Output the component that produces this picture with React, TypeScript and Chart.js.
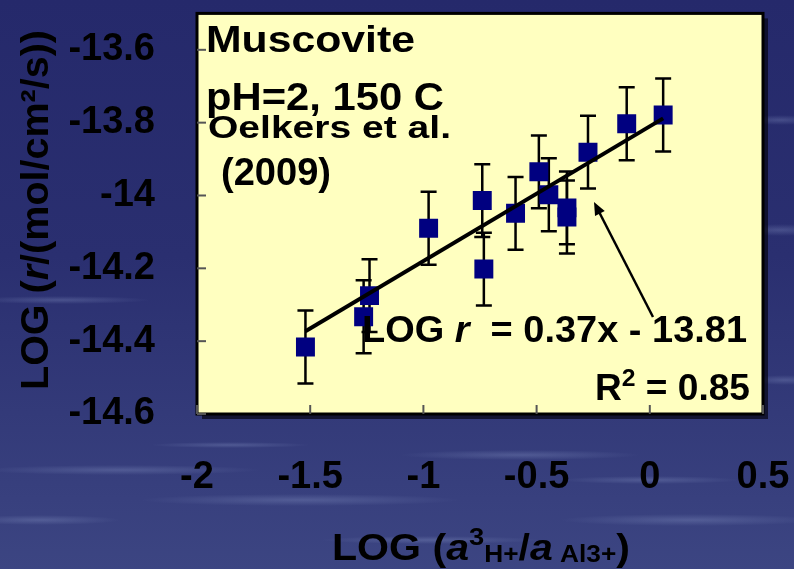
import React, { useEffect, useRef } from "react";
import { Chart, registerables } from "chart.js";

Chart.register(...registerables);

// ---- data ----
const logActivity = [-1.521, -1.264, -1.238, -0.977, -0.74, -0.733, -0.593, -0.49, -0.446, -0.366, -0.366, -0.273, -0.102, 0.059];
const logRate = [-14.416, -14.333, -14.275, -14.09, -14.014, -14.202, -14.049, -13.935, -13.998, -14.034, -14.059, -13.881, -13.803, -13.779];
const rateError = [0.1, 0.1, 0.1, 0.1, 0.1, 0.1, 0.1, 0.1, 0.1, 0.1, 0.1, 0.1, 0.1, 0.1];
const fitSlope = 0.37;
const fitIntercept = -13.81;
const xTicks = [-2, -1.5, -1, -0.5, 0, 0.5];
const yTicks = [-14.6, -14.4, -14.2, -14, -13.8, -13.6];

const FAMILY = '"Liberation Sans", Arial, Helvetica, sans-serif';

type Part = { t: string; size: number; italic?: boolean; dy?: number };

function drawParts(
  ctx: CanvasRenderingContext2D,
  parts: Part[],
  x: number,
  y: number,
  align: "left" | "right" | "center",
  targetW?: number
) {
  const fonts = parts.map((p) => `${p.italic ? "italic " : ""}bold ${p.size}px ${FAMILY}`);
  let w = 0;
  const ws = parts.map((p, i) => {
    ctx.font = fonts[i];
    const m = ctx.measureText(p.t).width;
    w += m;
    return m;
  });
  const sx = targetW ? targetW / w : 1;
  const total = w * sx;
  const start = align === "left" ? x : align === "right" ? x - total : x - total / 2;
  ctx.save();
  ctx.translate(start, y);
  ctx.scale(sx, 1);
  ctx.fillStyle = "#000";
  ctx.textAlign = "left";
  ctx.textBaseline = "alphabetic";
  let cx = 0;
  parts.forEach((p, i) => {
    ctx.font = fonts[i];
    ctx.fillText(p.t, cx, p.dy || 0);
    cx += ws[i];
  });
  ctx.restore();
}

const decorPlugin = {
  id: "decor",
  beforeDraw(chart: any) {
    const { ctx, width, height, chartArea: a } = chart;
    ctx.save();
    const g = ctx.createLinearGradient(0, 0, 0, height);
    g.addColorStop(0, "#25296b");
    g.addColorStop(0.45, "#2a2f70");
    g.addColorStop(1, "#3c4582");
    ctx.fillStyle = g;
    ctx.fillRect(0, 0, width, height);
    // soft water streaks
    const streaks = [
      [60, 300, 90, 4], [120, 470, 140, 5], [300, 500, 160, 6], [520, 455, 120, 5],
      [690, 520, 130, 6], [780, 120, 40, 5], [780, 230, 50, 6], [785, 380, 40, 5],
      [430, 540, 110, 4], [40, 520, 80, 5], [650, 480, 90, 4], [230, 445, 80, 3],
    ];
    streaks.forEach(([sx, sy, rx, ry]) => {
      const rg = ctx.createRadialGradient(sx, sy, 0, sx, sy, rx);
      rg.addColorStop(0, "rgba(150,165,210,0.28)");
      rg.addColorStop(1, "rgba(150,165,210,0)");
      ctx.save();
      ctx.translate(sx, sy);
      ctx.scale(1, ry / rx);
      ctx.translate(-sx, -sy);
      ctx.fillStyle = rg;
      ctx.beginPath();
      ctx.arc(sx, sy, rx, 0, Math.PI * 2);
      ctx.fill();
      ctx.restore();
    });
    // plot box shadow, fill, border
    ctx.fillStyle = "rgba(8,8,25,0.75)";
    ctx.fillRect(a.left + 5, a.top + 5, a.right - a.left, a.bottom - a.top);
    ctx.fillStyle = "#ffffc0";
    ctx.fillRect(a.left, a.top, a.right - a.left, a.bottom - a.top);
    ctx.lineWidth = 3;
    ctx.strokeStyle = "#000";
    ctx.strokeRect(a.left, a.top, a.right - a.left, a.bottom - a.top);
    ctx.restore();
  },
  beforeDatasetsDraw(chart: any) {
    const { ctx, chartArea: a, scales } = chart;
    const xs = scales.x;
    const ys = scales.y;
    ctx.save();
    // inside tick marks
    ctx.strokeStyle = "#555";
    ctx.lineWidth = 2;
    yTicks.forEach((v) => {
      const py = ys.getPixelForValue(v);
      ctx.beginPath();
      ctx.moveTo(a.left, py);
      ctx.lineTo(a.left + 9, py);
      ctx.stroke();
    });
    xTicks.forEach((v) => {
      const px = xs.getPixelForValue(v);
      ctx.beginPath();
      ctx.moveTo(px, a.bottom);
      ctx.lineTo(px, a.bottom - 9);
      ctx.stroke();
    });
    // error bars
    ctx.strokeStyle = "#000";
    ctx.lineWidth = 2.5;
    logActivity.forEach((xv, i) => {
      const px = xs.getPixelForValue(xv);
      const top = ys.getPixelForValue(logRate[i] + rateError[i]);
      const bot = ys.getPixelForValue(logRate[i] - rateError[i]);
      ctx.beginPath();
      ctx.moveTo(px, top);
      ctx.lineTo(px, bot);
      ctx.moveTo(px - 8, top);
      ctx.lineTo(px + 8, top);
      ctx.moveTo(px - 8, bot);
      ctx.lineTo(px + 8, bot);
      ctx.stroke();
    });
    ctx.restore();
  },
  afterDraw(chart: any) {
    const { ctx } = chart;
    ctx.save();
    drawParts(ctx, [{ t: "Muscovite", size: 37 }], 206, 52, "left", 209);
    drawParts(ctx, [{ t: "pH=2, 150 C", size: 39 }], 206, 110, "left", 238);
    drawParts(ctx, [{ t: "Oelkers et al.", size: 31 }], 208, 138, "left", 243);
    drawParts(ctx, [{ t: "(2009)", size: 39 }], 221, 185, "left", 110);
    drawParts(
      ctx,
      [
        { t: "LOG ", size: 37 },
        { t: "r", size: 37, italic: true },
        { t: "  = 0.37x - 13.81", size: 37 },
      ],
      362,
      342,
      "left",
      385
    );
    drawParts(
      ctx,
      [
        { t: "R", size: 36 },
        { t: "2", size: 24, dy: -14 },
        { t: " = 0.85", size: 36 },
      ],
      750,
      400,
      "right",
      155
    );
    // arrow
    const hx = 594, hy = 202, tx = 653, ty = 317;
    ctx.strokeStyle = "#000";
    ctx.fillStyle = "#000";
    ctx.lineWidth = 2.5;
    ctx.beginPath();
    ctx.moveTo(tx, ty);
    ctx.lineTo(hx + (tx - hx) * 0.08, hy + (ty - hy) * 0.08);
    ctx.stroke();
    const ang = Math.atan2(hy - ty, hx - tx);
    ctx.beginPath();
    ctx.moveTo(hx, hy);
    ctx.lineTo(hx - 14 * Math.cos(ang - 0.4), hy - 14 * Math.sin(ang - 0.4));
    ctx.lineTo(hx - 14 * Math.cos(ang + 0.4), hy - 14 * Math.sin(ang + 0.4));
    ctx.closePath();
    ctx.fill();
    // x axis title
    drawParts(
      ctx,
      [
        { t: "LOG (", size: 36 },
        { t: "a", size: 36, italic: true },
        { t: "3", size: 24, dy: -15 },
        { t: "H+", size: 23, dy: 2 },
        { t: "/", size: 36 },
        { t: "a", size: 36, italic: true },
        { t: " Al3+", size: 23, dy: 2 },
        { t: ")", size: 36 },
      ],
      481,
      560,
      "center",
      298
    );
    // y axis title
    ctx.save();
    ctx.translate(48, 210);
    ctx.rotate(-Math.PI / 2);
    drawParts(
      ctx,
      [
        { t: "LOG (", size: 38 },
        { t: "r", size: 38, italic: true },
        { t: "/(mol/cm\u00b2/s))", size: 38 },
      ],
      0,
      0,
      "center",
      360
    );
    ctx.restore();
    ctx.restore();
  },
};

export default function App() {
  const ref = useRef<HTMLCanvasElement | null>(null);
  useEffect(() => {
    document.body.style.margin = "0";
    const canvas = ref.current!;
    const sorted = [...logActivity].sort((p, q) => p - q);
    const fitX = [sorted[0], sorted[sorted.length - 1]];
    const chart = new Chart(canvas, {
      type: "scatter",
      data: {
        datasets: [
          {
            type: "line",
            data: fitX.map((x) => ({ x, y: fitSlope * x + fitIntercept })),
            borderColor: "#000",
            borderWidth: 4,
            pointRadius: 0,
            fill: false,
            order: 0,
          } as any,
          {
            data: logActivity.map((x, i) => ({ x, y: logRate[i] })),
            pointStyle: "rect",
            pointRadius: 13.4,
            pointHoverRadius: 13.4,
            pointBackgroundColor: "#000080",
            pointBorderWidth: 0,
            borderWidth: 0,
            order: 1,
          },
        ],
      },
      options: {
        animation: false,
        responsive: false,
        devicePixelRatio: 1,
        layout: { padding: { top: 10, right: 31, left: 0, bottom: 0 } },
        plugins: { legend: { display: false }, tooltip: { enabled: false } },
        events: [],
        scales: {
          x: {
            type: "linear",
            min: -2,
            max: 0.5,
            grid: { display: false },
            border: { display: false },
            afterBuildTicks: (s: any) => {
              s.ticks = xTicks.map((v) => ({ value: v }));
            },
            afterFit: (s: any) => {
              s.height = 155;
              s.paddingLeft = 0;
              s.paddingRight = 0;
            },
            ticks: {
              color: "#000",
              padding: 33,
              maxRotation: 0,
              autoSkip: false,
              font: { family: FAMILY, size: 38, weight: "bold" },
              callback: (v: any) => String(Math.round(Number(v) * 10) / 10),
            },
          },
          y: {
            type: "linear",
            min: -14.6,
            max: -13.5,
            grid: { display: false },
            border: { display: false },
            afterBuildTicks: (s: any) => {
              s.ticks = yTicks.map((v) => ({ value: v }));
            },
            afterFit: (s: any) => {
              s.width = 197;
              s.paddingTop = 0;
              s.paddingBottom = 0;
            },
            ticks: {
              color: "#000",
              padding: 34,
              autoSkip: false,
              font: { family: FAMILY, size: 38, weight: "bold" },
              callback: (v: any) => String(Math.round(Number(v) * 10) / 10),
            },
          },
        },
      },
      plugins: [decorPlugin],
    });
    return () => chart.destroy();
  }, []);
  return (
    <div style={{ position: "fixed", left: 0, top: 0, width: 794, height: 569 }}>
      <canvas ref={ref} width={794} height={569} style={{ display: "block", width: 794, height: 569 }} />
    </div>
  );
}
